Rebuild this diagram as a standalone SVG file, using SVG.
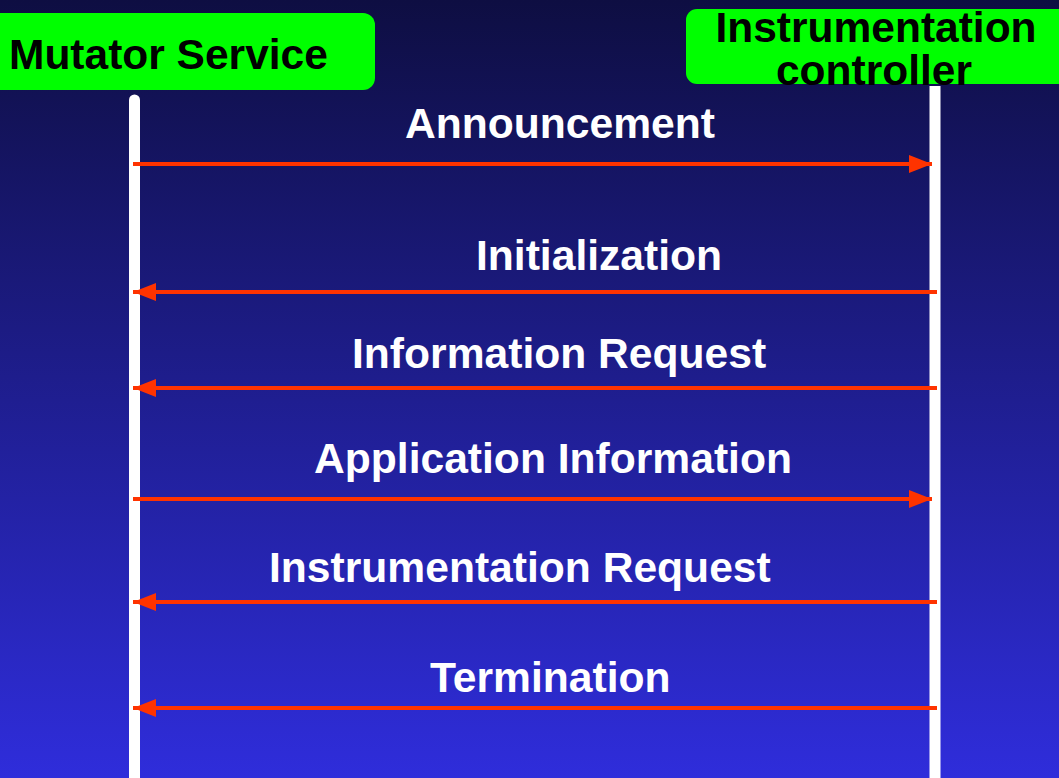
<svg xmlns="http://www.w3.org/2000/svg" width="1059" height="778" viewBox="0 0 1059 778">
  <defs>
    <linearGradient id="bg" x1="0" y1="0" x2="0" y2="1">
      <stop offset="0" stop-color="#0e0e42"/>
      <stop offset="1" stop-color="#2f2ddb"/>
    </linearGradient>
    <marker id="arrow" markerUnits="userSpaceOnUse" markerWidth="24" markerHeight="20" viewBox="0 0 24 20" refX="23" refY="10" orient="auto">
      <polygon points="0,1 23,10 0,19" fill="#ff3300"/>
    </marker>
    <style>
      .box { fill: #00ff00; }
      .boxtext { font-family: "Liberation Sans", Arial, sans-serif; font-weight: bold; font-size: 42.5px; fill: #000000; }
      .label { font-family: "Liberation Sans", Arial, sans-serif; font-weight: bold; font-size: 42.6px; fill: #ffffff; }
      .life { stroke: #ffffff; stroke-width: 11; }
      .msg { stroke: #ff3300; stroke-width: 4; fill: none; marker-end: url(#arrow); }
    </style>
  </defs>
  <rect x="0" y="0" width="1059" height="778" fill="url(#bg)"/>

  <g id="lifeline-mutator">
    <line class="life" x1="134.5" y1="100" x2="134.5" y2="778"/>
    <circle cx="134.5" cy="100" r="5.5" fill="#ffffff"/>
  </g>
  <g id="lifeline-controller">
    <line class="life" x1="935" y1="86" x2="935" y2="778"/>
  </g>

  <g id="node-mutator">
    <rect class="box" x="-14" y="13" width="389" height="77" rx="12" ry="12"/>
    <text class="boxtext" x="9" y="69">Mutator Service</text>
  </g>
  <g id="node-controller">
    <rect class="box" x="686" y="9" width="390" height="75" rx="11" ry="11"/>
    <text class="boxtext" x="876" y="42" text-anchor="middle">Instrumentation</text>
    <text class="boxtext" x="874" y="85" text-anchor="middle">controller</text>
  </g>

  <g id="connectors">
    <line class="msg" x1="133" y1="164" x2="932" y2="164"/>
    <line class="msg" x1="937" y1="292" x2="133" y2="292"/>
    <line class="msg" x1="937" y1="388" x2="133" y2="388"/>
    <line class="msg" x1="133" y1="499" x2="932" y2="499"/>
    <line class="msg" x1="937" y1="602" x2="133" y2="602"/>
    <line class="msg" x1="937" y1="708" x2="133" y2="708"/>
  </g>

  <g id="labels">
    <text class="label" x="405" y="138">Announcement</text>
    <text class="label" x="476" y="270">Initialization</text>
    <text class="label" x="352" y="368">Information Request</text>
    <text class="label" x="314" y="473">Application Information</text>
    <text class="label" x="269" y="582">Instrumentation Request</text>
    <text class="label" x="430" y="692">Termination</text>
  </g>
</svg>
